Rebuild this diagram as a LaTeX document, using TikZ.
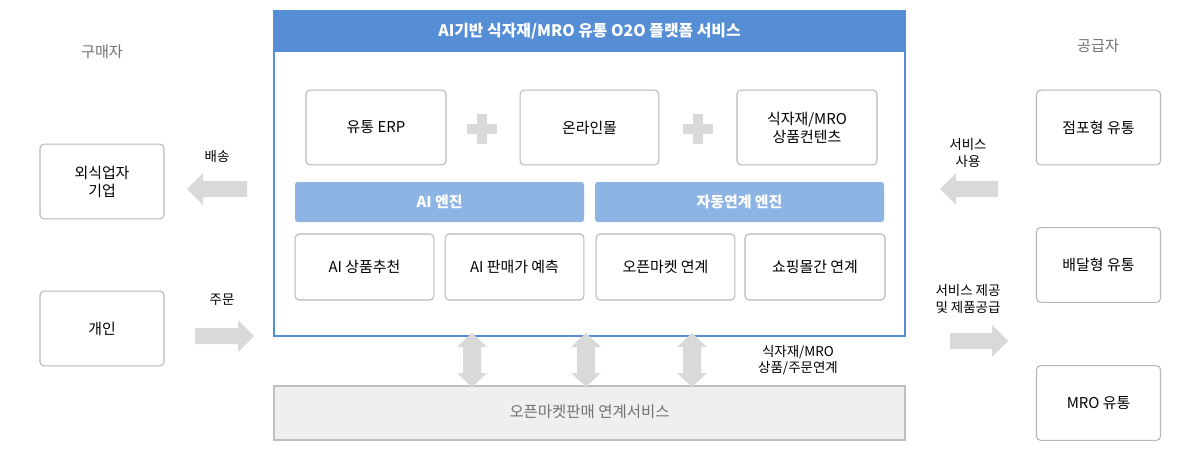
\documentclass[tikz,border=0pt]{standalone}
\usepackage{fontspec}
\setmainfont{Noto Sans CJK KR}
\begin{document}
\begin{tikzpicture}[x=0.75pt,y=-0.75pt,
  every node/.style={font=\fontsize{11.2}{13.5}\selectfont, align=center, text=black},
  card/.style={draw=black!28, line width=0.8pt, rounded corners=3pt, fill=white},
  engine/.style={fill=engblue, rounded corners=2pt, text=white, font=\fontsize{11.2}{13.5}\selectfont\bfseries},
  lbl/.style={font=\fontsize{10.1}{12.5}\selectfont},
  glbl/.style={text=black!55, font=\fontsize{11.4}{13.5}\selectfont},
  blk/.style={fill=arrgray, draw=none}]
\definecolor{hdrblue}{HTML}{558ED5}
\definecolor{engblue}{HTML}{8EB4E3}
\definecolor{arrgray}{HTML}{D9D9D9}
\definecolor{barg}{HTML}{EFEFEF}
\useasboundingbox (0,0) rectangle (1200,454);
\fill[white] (0,0) rectangle (1200,454);

% left side
\node[glbl] (buyer) at (102,52) {구매자};
\node[card, minimum width=93pt, minimum height=56pt] (rest) at (102,181.5) {외식업자\\기업};
\node[card, minimum width=93pt, minimum height=56pt] (indiv) at (102,328.5) {개인};
\node[lbl] (ship) at (217,156) {배송};
\node[lbl] (order) at (222,300) {주문};
\fill[blk] (187,189) -- (203,173) -- (203,181) -- (247,181) -- (247,197) -- (203,197) -- (203,205) -- cycle;
\fill[blk] (254,336) -- (238,320) -- (238,328) -- (195,328) -- (195,344) -- (238,344) -- (238,352) -- cycle;

% main box
\draw[hdrblue, line width=0.8pt, fill=white] (274,11) rectangle (905,336);
\fill[hdrblue] (274,11) rectangle (905,52);
\node[text=white, font=\fontsize{11.9}{14}\selectfont\bfseries] (title) at (589.5,31.5) {AI기반 식자재/MRO 유통 O2O 플랫폼 서비스};

\node[card, minimum width=105pt, minimum height=56pt] (erp) at (376,127.5) {유통 ERP};
\node[card, minimum width=104pt, minimum height=56pt] (mall) at (589.5,127.5) {온라인몰};
\node[card, minimum width=105pt, minimum height=56pt] (cont) at (807,127.5) {식자재/MRO\\상품컨텐츠};
\fill[arrgray] (477,114) rectangle (487,144);
\fill[arrgray] (467,124) rectangle (497,134);
\fill[arrgray] (693,114) rectangle (703,144);
\fill[arrgray] (683,124) rectangle (713,134);

\node[engine, minimum width=216.75pt, minimum height=30pt] (aieng) at (439.5,202) {AI 엔진};
\node[engine, minimum width=216.75pt, minimum height=30pt] (autoeng) at (739.5,202) {자동연계 엔진};

\node[card, minimum width=104pt, minimum height=49.5pt] (rec) at (364.5,267) {AI 상품추천};
\node[card, minimum width=104pt, minimum height=49.5pt] (pred) at (514.5,267) {AI 판매가 예측};
\node[card, minimum width=104pt, minimum height=49.5pt] (open) at (665.5,267) {오픈마켓 연계};
\node[card, minimum width=105pt, minimum height=49.5pt] (shop) at (815,267) {쇼핑몰간 연계};

% bottom bar
\draw[black!25, line width=0.8pt, fill=barg] (274,386) rectangle (905,440);
\node[text=black!55, font=\fontsize{11.6}{14}\selectfont] (omk) at (589.5,412) {오픈마켓판매 연계서비스};

% vertical double arrows
\foreach \cx in {472,586,692}{
  \fill[blk] (\cx,333) -- (\cx+15,347) -- (\cx+9,347) -- (\cx+9,373) -- (\cx+15,373) -- (\cx,387) -- (\cx-15,373) -- (\cx-9,373) -- (\cx-9,347) -- (\cx-15,347) -- cycle;
}
\node[lbl] (link) at (798,360) {식자재/MRO\\상품/주문연계};

% right side
\node[glbl] (supp) at (1098,46) {공급자};
\node[card, minimum width=93pt, minimum height=56pt] (store) at (1098.5,127.5) {점포형 유통};
\node[card, minimum width=93pt, minimum height=56pt] (deliv) at (1098.5,265) {배달형 유통};
\node[card, minimum width=93pt, minimum height=56pt] (mro) at (1098.5,403) {MRO 유통};
\node[lbl] (use) at (968,153) {서비스\\사용};
\node[lbl] (prov) at (968,299) {서비스 제공\\및 제품공급};
\fill[blk] (940,189) -- (956,173) -- (956,181) -- (998,181) -- (998,197) -- (956,197) -- (956,205) -- cycle;
\fill[blk] (1008,341) -- (992,325) -- (992,333) -- (950,333) -- (950,349) -- (992,349) -- (992,357) -- cycle;
\end{tikzpicture}
\end{document}
